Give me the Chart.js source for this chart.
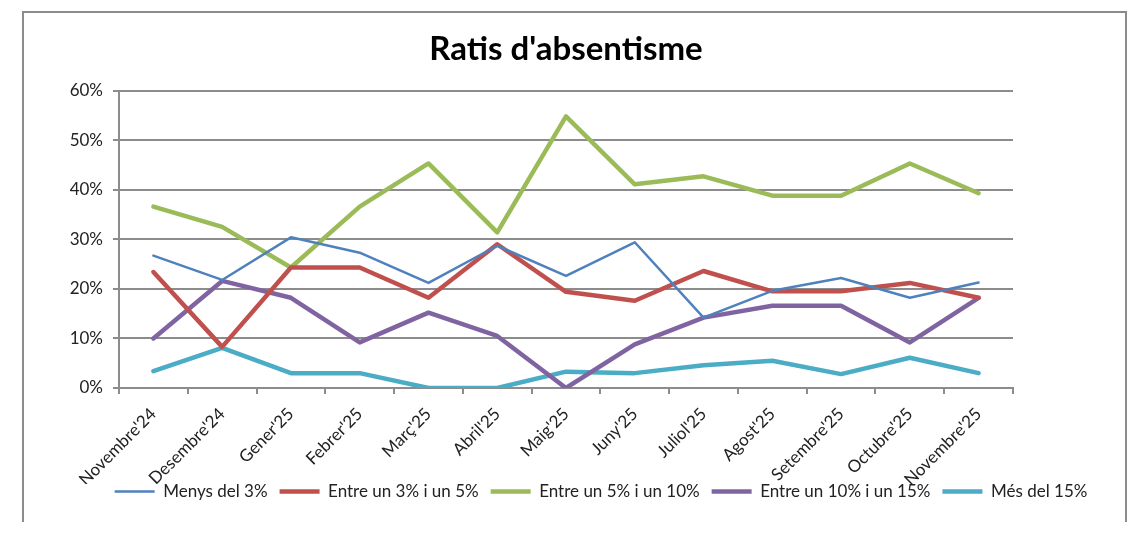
<!DOCTYPE html>
<html>
<head>
<meta charset="utf-8">
<script src="https://cdn.jsdelivr.net/npm/chart.js@4.4.1/dist/chart.umd.min.js"></script>
<style>
  body { margin: 0; background: #fff; }
  #frame { position: absolute; left: 22px; top: 11px; width: 1101px; height: 509px;
           border: 2px solid #8c8c8c; border-bottom: none; }
  #wrap { position: absolute; left: 0; top: 0; }
</style>
</head>
<body>
<div id="frame"></div>
<div id="wrap"><canvas id="chart" width="1146" height="542"></canvas></div>
<script>
// months shown on the x axis
const months = ["Novembre'24", "Desembre'24", "Gener'25", "Febrer'25", "Març'25", "Abril'25",
  "Maig'25", "Juny'25", "Juliol'25", "Agost'25", "Setembre'25", "Octubre'25", "Novembre'25"];

// share of staff (%) per absenteeism band
const menys3    = [26.7, 21.8, 30.4, 27.3, 21.2, 28.7, 22.6, 29.4, 14.2, 19.6, 22.2, 18.2, 21.3];
const entre3i5  = [23.4, 8.3, 24.3, 24.3, 18.2, 29.0, 19.4, 17.6, 23.6, 19.5, 19.5, 21.2, 18.2];
const entre5i10 = [36.6, 32.5, 24.3, 36.6, 45.3, 31.4, 54.8, 41.1, 42.7, 38.8, 38.8, 45.3, 39.3];
const entre10i15 = [10.0, 21.6, 18.2, 9.2, 15.2, 10.5, 0, 8.8, 14.2, 16.6, 16.6, 9.2, 18.2];
const mes15     = [3.4, 8.1, 3.0, 3.0, 0, 0, 3.3, 3.0, 4.6, 5.5, 2.8, 6.1, 3.0];

const yTicks = [0, 10, 20, 30, 40, 50, 60];

const font = 'Lato, "Liberation Sans", sans-serif';
const gridColor = '#8c8c8c';

function line(label, data, color, width) {
  return {
    label: label,
    data: data,
    borderColor: color,
    backgroundColor: color,
    borderWidth: width,
    pointRadius: 0,
    tension: 0,
    borderJoinStyle: 'round',
    borderCapStyle: 'round',
  };
}

// the month labels need a tall axis box (they are clipped to it),
// so pull the legend back up a little afterwards
const legendShift = {
  id: 'legendShift',
  afterLayout(chart) {
    chart.legend.top -= 13;
    chart.legend.bottom -= 13;
  },
};

const config = {
  type: 'line',
  data: {
    labels: months,
    datasets: [
      line('Menys del 3%', menys3, '#4f81bd', 2.5),
      line('Entre un 3% i un 5%', entre3i5, '#c0504d', 4.5),
      line('Entre un 5% i un 10%', entre5i10, '#9bbb59', 4.5),
      line('Entre un 10% i un 15%', entre10i15, '#8064a2', 4.5),
      line('Més del 15%', mes15, '#4bacc6', 4.5),
    ],
  },
  plugins: [legendShift],
  options: {
    responsive: false,
    animation: false,
    layout: { padding: { left: 60, right: 4, top: 30, bottom: 19 } },
    plugins: {
      title: {
        display: true,
        text: "Ratis d'absentisme",
        color: '#000',
        fullSize: false,
        font: { family: font, size: 33, weight: 'bold' },
        padding: { top: 0, bottom: 21 },
      },
      legend: {
        position: 'bottom',
        labels: {
          usePointStyle: true,
          pointStyle: 'line',
          pointStyleWidth: 40,
          boxWidth: 40,
          padding: 12,
          color: '#222',
          font: { family: font, size: 17 },
        },
      },
      tooltip: { enabled: false },
    },
    scales: {
      x: {
        offset: true,
        afterFit: s => { s.height = 96; },
        grid: { offset: true, drawOnChartArea: false, drawTicks: true, tickLength: 6,
                color: gridColor, lineWidth: 2 },
        border: { color: gridColor, width: 2 },
        ticks: { minRotation: 45, maxRotation: 45, padding: 10, color: '#222',
                 font: { family: font, size: 17 }, autoSkip: false },
      },
      y: {
        min: 0,
        max: 60,
        afterFit: s => { s.width = 59; },
        afterBuildTicks: s => { s.ticks = yTicks.map(v => ({ value: v })); },
        grid: { color: gridColor, lineWidth: 2, tickLength: 6 },
        border: { color: gridColor, width: 2 },
        ticks: { padding: 10, color: '#222', font: { family: font, size: 17 },
                 callback: v => v + '%' },
      },
      // empty scale that only keeps the plot's right margin
      yRight: {
        position: 'right',
        display: true,
        afterFit: s => { s.width = 129; },
        grid: { display: false },
        border: { display: false },
        ticks: { display: false },
      },
    },
  },
};

const ctx = document.getElementById('chart');
window.myChart = new Chart(ctx, config);
</script>
</body>
</html>
